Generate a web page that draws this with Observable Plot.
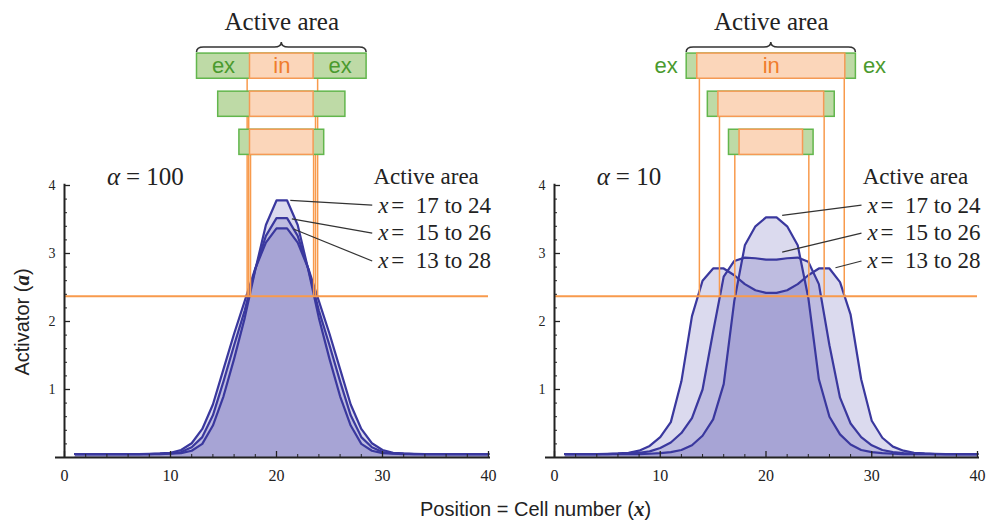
<!DOCTYPE html>
<html>
<head>
<meta charset="utf-8">
<script src="https://cdn.jsdelivr.net/npm/d3@7"></script>
<script src="https://cdn.jsdelivr.net/npm/@observablehq/plot@0.6"></script>
<style>
  body { margin: 0; background: #fff; }
  #chart { position: relative; width: 987px; height: 523px; overflow: hidden; background: #fff; }
  .panel { position: absolute; top: 0; }
  .ytitle { position: absolute; left: 22px; top: 322px; transform: translate(-50%, -50%) rotate(-90deg);
            font-family: "Liberation Sans", Arial, sans-serif; font-size: 20px; white-space: nowrap; color: #222; }
  .xtitle { position: absolute; left: 420px; top: 497px;
            font-family: "Liberation Sans", Arial, sans-serif; font-size: 20px; white-space: nowrap; color: #222; }
  .mathv { font-family: "Liberation Serif", "Times New Roman", serif; font-style: italic; font-weight: bold; font-size: 21px; }
</style>
</head>
<body>
<div id="chart">
  <div class="ytitle">Activator (<span class="mathv">a</span>)</div>
  <div class="xtitle">Position = Cell number (<span class="mathv">x</span>)</div>
</div>
<script>
// ---------- data ----------
const cells = d3.range(1, 41);
const threshold = 2.37;

// alpha = 100
const a100_17_24 = [0.05,0.05,0.05,0.05,0.05,0.05,0.05,0.05,0.05,0.055,0.065,0.1,0.2,0.47,0.9,1.45,2.05,2.76,3.42,3.78,3.78,3.42,2.76,2.05,1.45,0.9,0.47,0.2,0.1,0.065,0.055,0.05,0.05,0.05,0.05,0.05,0.05,0.05,0.05,0.05];
const a100_15_26 = [0.05,0.05,0.05,0.05,0.05,0.05,0.05,0.05,0.055,0.06,0.08,0.15,0.3,0.62,1.12,1.65,2.16,2.77,3.26,3.52,3.52,3.26,2.77,2.16,1.65,1.12,0.62,0.3,0.15,0.08,0.06,0.055,0.05,0.05,0.05,0.05,0.05,0.05,0.05,0.05];
const a100_13_28 = [0.05,0.05,0.05,0.05,0.05,0.05,0.05,0.055,0.06,0.07,0.11,0.21,0.42,0.78,1.3,1.82,2.3,2.78,3.16,3.37,3.37,3.16,2.78,2.3,1.82,1.3,0.78,0.42,0.21,0.11,0.07,0.06,0.055,0.05,0.05,0.05,0.05,0.05,0.05,0.05];

// alpha = 10
const a10_17_24 = [0.05,0.05,0.05,0.05,0.05,0.05,0.05,0.05,0.055,0.065,0.08,0.11,0.18,0.32,0.56,1.08,2.3,3.12,3.4,3.53,3.53,3.4,3.12,2.35,1.15,0.6,0.34,0.19,0.11,0.08,0.065,0.055,0.05,0.05,0.05,0.05,0.05,0.05,0.05,0.05];
const a10_15_26 = [0.05,0.05,0.05,0.05,0.05,0.055,0.06,0.07,0.09,0.14,0.22,0.36,0.58,1.0,1.85,2.66,2.89,2.94,2.93,2.91,2.91,2.93,2.94,2.88,2.55,1.65,0.88,0.5,0.3,0.18,0.11,0.08,0.065,0.06,0.055,0.05,0.05,0.05,0.05,0.05];
const a10_13_28 = [0.05,0.05,0.05,0.05,0.055,0.06,0.07,0.1,0.17,0.3,0.52,1.12,2.08,2.6,2.78,2.78,2.68,2.55,2.46,2.42,2.42,2.46,2.55,2.68,2.78,2.78,2.58,2.1,1.15,0.54,0.29,0.16,0.1,0.07,0.06,0.055,0.05,0.05,0.05,0.05];

// active areas (top box to bottom box) and cells above threshold ("in")
const activeFrom = [13, 15, 17];
const activeTo   = [28, 26, 24];
const inFrom100 = [18, 18, 18];
const inTo100   = [23, 23, 23];
const inFrom10  = [14, 16, 18];
const inTo10    = [27, 25, 23];
// threshold crossing positions
const crossL100 = [17.23, 17.38, 17.55];
const crossR100 = [23.88, 23.68, 23.5];
const crossL10  = [13.7, 15.6, 17.05];
const crossR10  = [27.4, 25.5, 24.05];
// label texts (rows top to bottom) and leader targets [cell, activator]
const rowLabels = ["17 to 24", "15 to 26", "13 to 28"];
const leaderTarget100 = [[21.3, 3.78], [21.45, 3.51], [21.6, 3.36]];
const leaderTarget10  = [[21.53, 3.56], [21.53, 3.02], [26.57, 2.79]];

const xMajor = [0, 10, 20, 30, 40];
const xMinor = d3.range(0, 41, 2).filter(d => d % 10 !== 0);
const yMajor = [1, 2, 3, 4];
const yMinor = d3.range(0.2, 4, 0.2).filter(d => Math.abs(d - Math.round(d)) > 0.01);

// ---------- styles ----------
const SERIF = "Liberation Serif, Times New Roman, serif";
const SANS = "Liberation Sans, Arial, sans-serif";
const LINE = "#3a389e";
const FILL = "#4a48a8";
const ORANGE = "#f89a4c";
const GREEN_FILL = "#bedaa6", GREEN_STROKE = "#62b64c", GREEN_TEXT = "#4a9a2e";
const IN_FILL = "#fbd6ba", IN_STROKE = "#f59a55", IN_TEXT = "#f07c2c";
const AXIS = "#222";

// layout of the schematic rows (in activator units above the plot)
const rowTop = [5.94, 5.38, 4.82];
const rowH = 0.37;
const rowLabelY = [3.71, 3.30, 2.89];

function panel({series, alphaText, inFrom, inTo, crossL, crossR, leaders, exOutside, width, marginRight}) {
  const data = series.flatMap((s, k) => cells.map((c, i) => ({cell: c, value: s[i], k})));
  const boxes = activeFrom.map((f, i) => ({
    x1: f - 0.5, x2: activeTo[i] + 0.5, ix1: inFrom[i] - 0.5, ix2: inTo[i] + 0.5,
    top: rowTop[i], bottom: rowTop[i] - rowH, cl: crossL[i], cr: crossR[i]
  }));
  const verticals = boxes.flatMap(b => [{x: b.cl, top: b.bottom}, {x: b.cr, top: b.bottom}]);
  const rows = rowLabels.map((t, i) => ({t, y: rowLabelY[i], tx: leaders[i][0], ty: leaders[i][1]}));
  const b0 = boxes[0];
  const boxMid = (b0.top + b0.bottom) / 2;
  const exMarks = exOutside
    ? [Plot.text(["ex"], {x: b0.x1, y: boxMid, textAnchor: "end", dx: -9, fontSize: 22, fontFamily: SANS, fill: GREEN_TEXT}),
       Plot.text(["ex"], {x: b0.x2, y: boxMid, textAnchor: "start", dx: 7, fontSize: 22, fontFamily: SANS, fill: GREEN_TEXT})]
    : [Plot.text(["ex", "ex"], {x: (d, i) => i ? (b0.ix2 + b0.x2) / 2 : (b0.x1 + b0.ix1) / 2, y: boxMid, fontSize: 22, fontFamily: SANS, fill: GREEN_TEXT})];

  const brace = (index, {x, y}) => {
    const x1 = x(b0.x1), x2 = x(b0.x2), xm = (x1 + x2) / 2;
    const yb = y(b0.top) - 1, ym = yb - 5, yt = ym - 5, r = 7;
    const d = `M${x1},${yb} Q${x1},${ym} ${x1 + r},${ym} L${xm - r},${ym} Q${xm},${ym} ${xm},${yt} ` +
              `Q${xm},${ym} ${xm + r},${ym} L${x2 - r},${ym} Q${x2},${ym} ${x2},${yb}`;
    return d3.create("svg:path").attr("d", d).attr("fill", "none").attr("stroke", "#333").attr("stroke-width", 1.5).node();
  };

  return Plot.plot({
    width, height: 523, marginLeft: 64, marginRight, marginTop: 185, marginBottom: 66,
    x: {domain: [0, 40], axis: null},
    y: {domain: [0, 4], axis: null},
    style: {background: "transparent", overflow: "visible", fontFamily: SERIF, color: AXIS},
    marks: [
      // filled profiles
      ...series.map((s, k) => Plot.areaY(data.filter(d => d.k === k), {x: "cell", y: "value", fill: FILL, fillOpacity: 0.2})),
      ...series.map((s, k) => Plot.lineY(data.filter(d => d.k === k), {x: "cell", y: "value", stroke: LINE, strokeWidth: 2.2})),
      // threshold and projections
      Plot.ruleY([threshold], {stroke: ORANGE, strokeWidth: 2}),
      Plot.ruleX(verticals, {x: "x", y1: threshold, y2: "top", stroke: ORANGE, strokeWidth: 1.5}),
      // schematic boxes
      Plot.rect(boxes, {x1: "x1", x2: "x2", y1: "bottom", y2: "top", fill: GREEN_FILL, stroke: GREEN_STROKE, strokeWidth: 1.5}),
      Plot.rect(boxes, {x1: "ix1", x2: "ix2", y1: "bottom", y2: "top", fill: IN_FILL, stroke: IN_STROKE, strokeWidth: 1.5}),
      brace,
      Plot.text(["Active area"], {x: (b0.x1 + b0.x2) / 2, y: 6.4, fontSize: 25, fontFamily: SERIF, fill: "#222"}),
      ...exMarks,
      Plot.text(["in"], {x: (b0.ix1 + b0.ix2) / 2, y: boxMid, fontSize: 22, fontFamily: SANS, fill: IN_TEXT}),
      // axes
      Plot.ruleY([0], {stroke: AXIS, strokeWidth: 2, insetLeft: -9, insetRight: -2}),
      Plot.ruleX([0], {y1: 0, y2: 4.02, stroke: AXIS, strokeWidth: 2}),
      Plot.ruleX(xMajor, {x: d => d, y1: 0, y2: 0, insetTop: -6, stroke: AXIS, strokeWidth: 1.3}),
      Plot.ruleX(xMinor, {x: d => d, y1: 0, y2: 0, insetTop: -3, stroke: AXIS, strokeWidth: 1}),
      Plot.ruleY(yMajor, {y: d => d, x1: 0, x2: 0, insetRight: -6, stroke: AXIS, strokeWidth: 1.3}),
      Plot.ruleY(yMinor, {y: d => d, x1: 0, x2: 0, insetRight: -3, stroke: AXIS, strokeWidth: 1}),
      Plot.text(xMajor, {x: d => d, y: 0, dy: 18, text: d => String(d), fontSize: 16, fontFamily: SERIF, fill: AXIS}),
      Plot.text(yMajor, {x: 0, y: d => d, dx: -9, text: d => String(d), textAnchor: "end", fontSize: 14, fontFamily: SERIF, fill: AXIS}),
      // annotations
      Plot.text(["\u03b1"], {x: 4, y: 4.13, textAnchor: "start", fontSize: 25, fontStyle: "italic", fontFamily: SERIF, fill: "#222"}),
      Plot.text([alphaText], {x: 4, y: 4.13, dx: 19, textAnchor: "start", fontSize: 25, fontFamily: SERIF, fill: "#222"}),
      Plot.text(["Active area"], {x: 29.15, y: 4.13, textAnchor: "start", fontSize: 23, fontFamily: SERIF, fill: "#222"}),
      Plot.link(rows, {x1: "tx", y1: "ty", x2: 29.03, y2: "y", stroke: "#333", strokeWidth: 1.2}),
      Plot.text(rows, {x: 29.6, y: "y", text: () => "x", textAnchor: "start", fontSize: 23, fontStyle: "italic", fontFamily: SERIF, fill: "#222"}),
      Plot.text(rows, {x: 29.6, y: "y", text: d => "=  " + d.t, dx: 13, textAnchor: "start", fontSize: 23, fontFamily: SERIF, fill: "#222"})
    ]
  });
}

const left = panel({
  series: [a100_13_28, a100_15_26, a100_17_24],
  alphaText: "= 100", inFrom: inFrom100, inTo: inTo100, crossL: crossL100, crossR: crossR100,
  leaders: leaderTarget100, exOutside: false, width: 493, marginRight: 5
});
const right = panel({
  series: [a10_13_28, a10_15_26, a10_17_24],
  alphaText: "= 10", inFrom: inFrom10, inTo: inTo10, crossL: crossL10, crossR: crossR10,
  leaders: leaderTarget10, exOutside: true, width: 497, marginRight: 10
});
left.classList.add("panel"); left.style.left = "0px";
right.classList.add("panel"); right.style.left = "490px";
const chart = document.getElementById("chart");
chart.appendChild(left);
chart.appendChild(right);
</script>
</body>
</html>
